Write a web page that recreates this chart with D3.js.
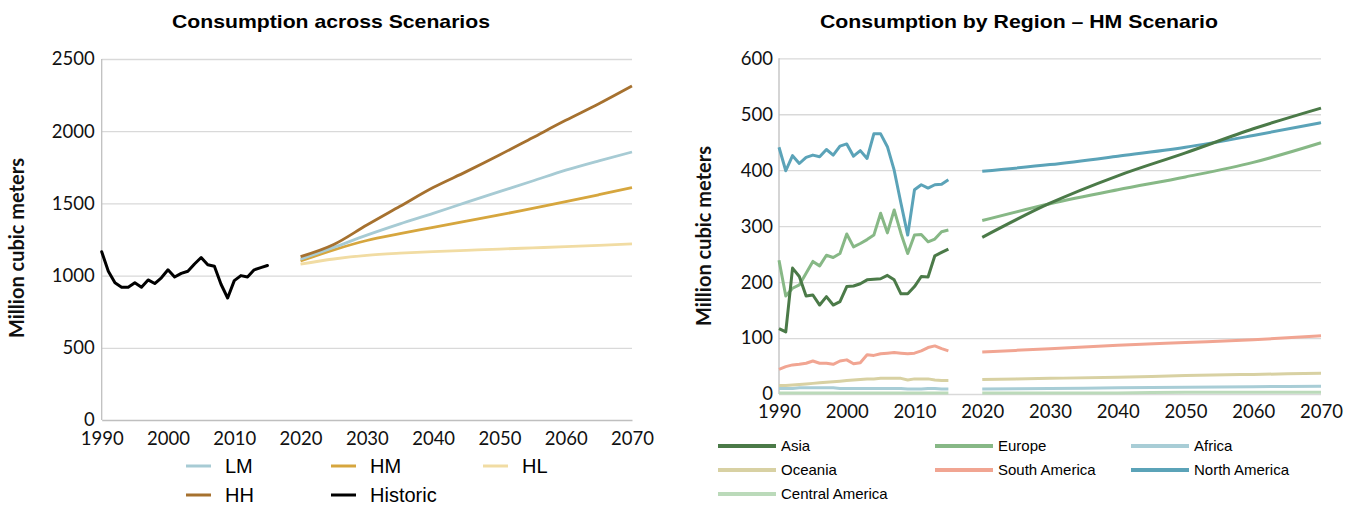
<!DOCTYPE html>
<html>
<head>
<meta charset="utf-8">
<script src="https://cdn.jsdelivr.net/npm/d3@7"></script>
<style>
  html, body { margin: 0; padding: 0; background: #fff; }
  svg { display: block; }
</style>
</head>
<body>
<svg id="chart" width="1355" height="506"></svg>
<script>
// ---------- DATA ----------
const histYears = d3.range(1990, 2016);
const historic = [1165, 1030, 950, 920, 920, 950, 920, 970, 945, 985, 1040, 990, 1015, 1030, 1080, 1125, 1075, 1065, 940, 845, 965, 1000, 990, 1040, 1055, 1070];

const scenYears = [2020, 2025, 2030, 2035, 2040, 2045, 2050, 2055, 2060, 2065, 2070];
const scenLM = [1113, 1195, 1280, 1358, 1431, 1507, 1581, 1655, 1730, 1795, 1856];
const scenHM = [1101, 1178, 1243, 1290, 1334, 1378, 1420, 1466, 1512, 1560, 1609];
const scenHL = [1080, 1115, 1140, 1155, 1166, 1175, 1184, 1192, 1200, 1210, 1219];
const scenHH = [1131, 1215, 1350, 1480, 1610, 1720, 1835, 1955, 2075, 2190, 2313];

const leftYTicks = [0, 500, 1000, 1500, 2000, 2500];
const xTicks = [1990, 2000, 2010, 2020, 2030, 2040, 2050, 2060, 2070];
const rightYTicks = [0, 100, 200, 300, 400, 500, 600];

const regionNames = ["Asia", "Europe", "Africa", "Oceania", "South America", "North America", "Central America"];
const histAsia = [117, 111, 225, 210, 175, 177, 159, 174, 159, 165, 192, 193, 197, 204, 205, 206, 212, 204, 179, 179, 192, 210, 209, 247, 253, 259];
const histEurope = [239, 175, 189, 195, 216, 237, 229, 248, 244, 251, 286, 263, 269, 276, 284, 323, 288, 329, 287, 251, 284, 285, 272, 277, 290, 293];
const histAfrica = [10, 10, 10, 11, 11, 11, 11, 11, 11, 10, 10, 10, 10, 10, 10, 10, 10, 10, 10, 9, 9, 9, 10, 10, 9, 9];
const histOceania = [15, 15, 16, 17, 18, 19, 20, 21, 22, 23, 24, 25, 26, 27, 27, 28, 28, 28, 28, 25, 27, 27, 27, 25, 24, 24];
const histSouthAm = [44, 49, 52, 53, 55, 59, 55, 55, 53, 59, 61, 54, 56, 70, 69, 72, 73, 74, 73, 72, 73, 77, 83, 86, 81, 77];
const histNorthAm = [441, 399, 426, 412, 423, 427, 424, 437, 427, 443, 447, 425, 435, 421, 465, 465, 442, 400, 341, 284, 365, 374, 368, 374, 375, 383];
const histCentralAm = [2, 2, 2, 2, 2, 2, 2, 2, 2, 2, 2, 2, 2, 2, 2, 2, 2, 2, 2, 2, 2, 2, 2, 2, 2, 2];

const projYears = [2020, 2030, 2040, 2050, 2060, 2070];
const projAsia = [280, 341, 390, 431, 474, 511];
const projEurope = [310, 340, 365, 388, 414, 449];
const projAfrica = [9, 10, 11, 12, 13, 14];
const projOceania = [26, 28, 30, 33, 35, 37];
const projSouthAm = [75, 81, 87, 92, 97, 104];
const projNorthAm = [398, 410, 425, 441, 462, 485];
const projCentralAm = [2, 2, 2, 3, 3, 3];

// ---------- STYLE ----------
const scenColors = { LM: "#a7cbd4", HM: "#d6a63e", HL: "#f1dca3", HH: "#a6712f", Historic: "#000000" };
const regionColors = {
  "Asia": "#4b7a48", "Europe": "#87b886", "Africa": "#a8cdd6", "Oceania": "#d8d1a3",
  "South America": "#f1a592", "North America": "#5ba3b8", "Central America": "#bbdaba"
};
const tickFont = "Lato, 'Open Sans', sans-serif";
const legendFont = "'Liberation Sans', Arial, sans-serif";

const svg = d3.select("#chart");

// ---------- LEFT CHART ----------
const xL = d3.scaleLinear().domain([1990, 2070]).range([101.7, 632]);
const yL = d3.scaleLinear().domain([0, 2500]).range([420, 59]);

const gL = svg.append("g");
gL.append("g")
  .attr("transform", `translate(${xL(1990)},0)`)
  .call(d3.axisLeft(yL).tickValues(leftYTicks.filter(d => d > 0)).tickSize(-(xL(2070) - xL(1990))).tickFormat(""))
  .call(g => g.select(".domain").remove())
  .call(g => g.selectAll("line").attr("stroke", "#d9d9d9").attr("stroke-width", 1.3));
gL.append("g")
  .attr("transform", `translate(${xL(1990)},0)`)
  .call(d3.axisLeft(yL).tickValues(leftYTicks).tickSize(0).tickPadding(7).tickFormat(d3.format("d")))
  .call(g => g.select(".domain").remove())
  .call(g => g.selectAll("text").attr("font-family", tickFont).attr("font-size", 18.5).attr("fill", "#111"));
gL.append("g")
  .attr("transform", `translate(0,${yL(0)})`)
  .call(d3.axisBottom(xL).tickValues(xTicks).tickSize(0).tickPadding(12).tickFormat(d3.format("d")))
  .call(g => g.select(".domain").attr("stroke", "#bfbfbf").attr("stroke-width", 1.6))
  .call(g => g.selectAll("text").attr("font-family", tickFont).attr("font-size", 18.5).attr("fill", "#111"));
gL.append("line")
  .attr("x1", xL(1990)).attr("x2", xL(1990)).attr("y1", yL(2500)).attr("y2", yL(0))
  .attr("stroke", "#bfbfbf").attr("stroke-width", 1.3);

const lineL = d3.line().x(d => xL(d[0])).y(d => yL(d[1]));
const lineLs = d3.line().x(d => xL(d[0])).y(d => yL(d[1])).curve(d3.curveMonotoneX);

const scenSeries = [["HL", scenHL], ["HM", scenHM], ["LM", scenLM], ["HH", scenHH]];
scenSeries.forEach(([k, vals]) => {
  gL.append("path")
    .datum(scenYears.map((y, i) => [y, vals[i]]))
    .attr("d", lineLs).attr("fill", "none")
    .attr("stroke", scenColors[k]).attr("stroke-width", 2.8).attr("stroke-linejoin", "round");
});
gL.append("path")
  .datum(histYears.map((y, i) => [y, historic[i]]))
  .attr("d", lineL).attr("fill", "none")
  .attr("stroke", scenColors.Historic).attr("stroke-width", 3).attr("stroke-linejoin", "round").attr("stroke-linecap", "round");

gL.append("text")
  .attr("transform", `translate(24,248) rotate(-90)`)
  .attr("text-anchor", "middle")
  .attr("font-family", tickFont).attr("font-weight", "bold").attr("font-size", 20).attr("fill", "#111")
  .text("Million cubic meters");

svg.append("text")
  .attr("x", 172).attr("y", 28)
  .attr("font-family", "'Liberation Sans Narrow', 'Liberation Sans', Arial, sans-serif")
  .attr("font-weight", "bold").attr("font-size", 19).attr("fill", "#000")
  .attr("textLength", 318).attr("lengthAdjust", "spacingAndGlyphs")
  .text("Consumption across Scenarios");

const legL = [
  { k: "LM", x: 186, y: 466 }, { k: "HM", x: 331, y: 466 }, { k: "HL", x: 483, y: 466 },
  { k: "HH", x: 186, y: 495 }, { k: "Historic", x: 331, y: 495 }
];
legL.forEach(d => {
  svg.append("line").attr("x1", d.x).attr("x2", d.x + 25).attr("y1", d.y).attr("y2", d.y)
    .attr("stroke", scenColors[d.k]).attr("stroke-width", 3);
  svg.append("text").attr("x", d.x + 39).attr("y", d.y).attr("dy", "0.35em")
    .attr("font-family", legendFont).attr("font-size", 20).attr("fill", "#000")
    .text(d.k);
});

// ---------- RIGHT CHART ----------
const xR = d3.scaleLinear().domain([1990, 2070]).range([779, 1321]);
const yR = d3.scaleLinear().domain([0, 600]).range([394, 58.3]);
const gR = svg.append("g");

gR.append("g")
  .attr("transform", `translate(${xR(1990)},0)`)
  .call(d3.axisLeft(yR).tickValues(rightYTicks).tickSize(-(xR(2070) - xR(1990))).tickFormat(""))
  .call(g => g.select(".domain").remove())
  .call(g => g.selectAll("line").attr("stroke", "#d9d9d9").attr("stroke-width", 1.3));
gR.append("g")
  .attr("transform", `translate(${xR(1990)},0)`)
  .call(d3.axisLeft(yR).tickValues(rightYTicks).tickSize(0).tickPadding(6).tickFormat(d3.format("d")))
  .call(g => g.select(".domain").remove())
  .call(g => g.selectAll("text").attr("font-family", tickFont).attr("font-size", 18.5).attr("fill", "#111"));
gR.append("g")
  .attr("transform", `translate(0,${yR(0)})`)
  .call(d3.axisBottom(xR).tickValues(xTicks).tickSize(0).tickPadding(11).tickFormat(d3.format("d")))
  .call(g => g.select(".domain").remove())
  .call(g => g.selectAll("text").attr("font-family", tickFont).attr("font-size", 18.5).attr("fill", "#111"));
gR.append("line")
  .attr("x1", xR(1990)).attr("x2", xR(1990)).attr("y1", yR(600)).attr("y2", yR(0))
  .attr("stroke", "#bfbfbf").attr("stroke-width", 1.3);

const lineR = d3.line().x(d => xR(d[0])).y(d => yR(d[1]));
const lineRs = d3.line().x(d => xR(d[0])).y(d => yR(d[1])).curve(d3.curveMonotoneX);

const regionHist = {
  "Asia": histAsia, "Europe": histEurope, "Africa": histAfrica, "Oceania": histOceania,
  "South America": histSouthAm, "North America": histNorthAm, "Central America": histCentralAm
};
const regionProj = {
  "Asia": projAsia, "Europe": projEurope, "Africa": projAfrica, "Oceania": projOceania,
  "South America": projSouthAm, "North America": projNorthAm, "Central America": projCentralAm
};
const drawOrder = ["Central America", "Africa", "Oceania", "South America", "Europe", "North America", "Asia"];
drawOrder.forEach(name => {
  gR.append("path")
    .datum(histYears.map((y, i) => [y, regionHist[name][i]]))
    .attr("d", lineR).attr("fill", "none")
    .attr("stroke", regionColors[name]).attr("stroke-width", 3).attr("stroke-linejoin", "round");
  gR.append("path")
    .datum(projYears.map((y, i) => [y, regionProj[name][i]]))
    .attr("d", lineRs).attr("fill", "none")
    .attr("stroke", regionColors[name]).attr("stroke-width", 3).attr("stroke-linejoin", "round");
});

gR.append("text")
  .attr("transform", `translate(711,236) rotate(-90)`)
  .attr("text-anchor", "middle")
  .attr("font-family", tickFont).attr("font-weight", "bold").attr("font-size", 20).attr("fill", "#111")
  .text("Million cubic meters");

svg.append("text")
  .attr("x", 820).attr("y", 28)
  .attr("font-family", "'Liberation Sans Narrow', 'Liberation Sans', Arial, sans-serif")
  .attr("font-weight", "bold").attr("font-size", 19).attr("fill", "#000")
  .attr("textLength", 398).attr("lengthAdjust", "spacingAndGlyphs")
  .text("Consumption by Region – HM Scenario");

const legColX = [718, 935, 1131];
const legRowY = [446, 470, 494];
regionNames.forEach((name, i) => {
  const x = legColX[i % 3], y = legRowY[Math.floor(i / 3)];
  svg.append("line").attr("x1", x).attr("x2", x + 58).attr("y1", y).attr("y2", y)
    .attr("stroke", regionColors[name]).attr("stroke-width", 4);
  svg.append("text").attr("x", x + 63).attr("y", y).attr("dy", "0.35em")
    .attr("font-family", legendFont).attr("font-size", 15).attr("fill", "#000")
    .text(name);
});
</script>
</body>
</html>
